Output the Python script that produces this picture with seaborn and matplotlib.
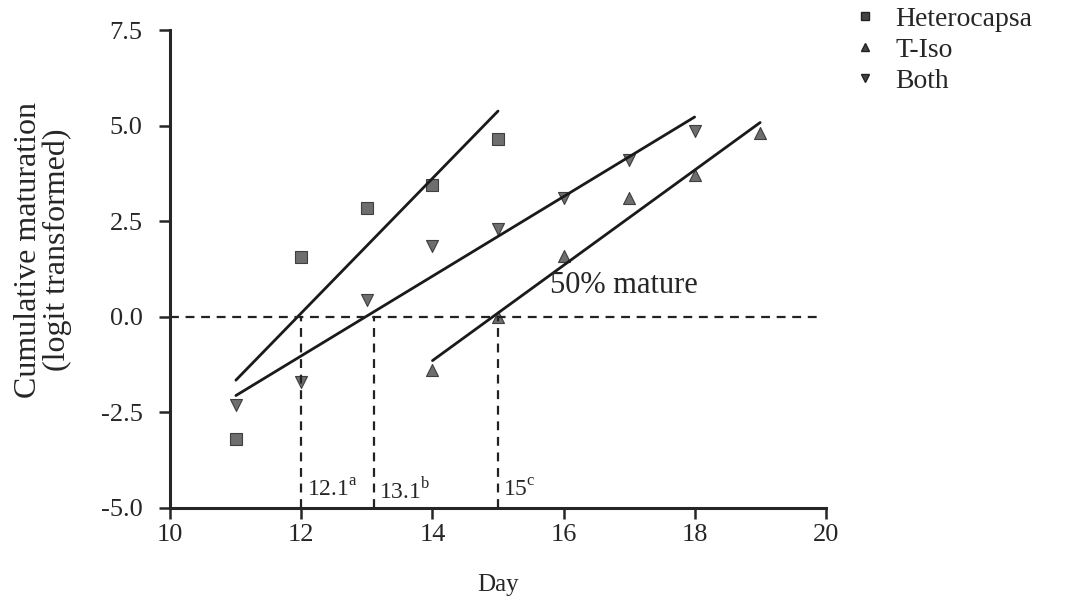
import matplotlib
matplotlib.use("Agg")
import matplotlib.pyplot as plt
import seaborn as sns
import pandas as pd
from matplotlib.lines import Line2D

# DATOS

hetero_day = [11, 12, 13, 14, 15]
hetero_logit = [-3.2, 1.55, 2.85, 3.45, 4.65]

tiso_day = [14, 15, 16, 17, 18, 19]
tiso_logit = [-1.4, 0.0, 1.6, 3.1, 3.7, 4.8]

both_day = [11, 12, 13, 14, 15, 16, 17, 18]
both_logit = [-2.3, -1.7, 0.45, 1.85, 2.3, 3.1, 4.1, 4.85]

series_names = ["Heterocapsa", "T-Iso", "Both"]
series_markers = ["s", "^", "v"]

mature_days = [12.0, 13.1, 15.0]
mature_labels = ["12.1$^{\\mathrm{a}}$", "13.1$^{\\mathrm{b}}$", "15$^{\\mathrm{c}}$"]

df = pd.concat([
    pd.DataFrame({"day": hetero_day, "logit": hetero_logit, "grupo": "Heterocapsa"}),
    pd.DataFrame({"day": tiso_day, "logit": tiso_logit, "grupo": "T-Iso"}),
    pd.DataFrame({"day": both_day, "logit": both_logit, "grupo": "Both"}),
])

# ESTILO

sns.set_style("ticks")
plt.rcParams["font.family"] = ["Liberation Serif", "DejaVu Serif"]
plt.rcParams["mathtext.fontset"] = "custom"
plt.rcParams["mathtext.rm"] = "Liberation Serif"

fig = plt.figure(figsize=(10.85, 6.01), dpi=100)
ax = fig.add_axes([0.157, 0.155, 0.604, 0.795])

# REGRESIONES POR GRUPO

for name, mk in zip(series_names, series_markers):
    sub = df[df["grupo"] == name]
    sns.regplot(
        data=sub,
        x="day",
        y="logit",
        ax=ax,
        ci=None,
        marker=mk,
        scatter_kws={"s": 75, "color": "#4a4a4a", "edgecolor": "#222222", "linewidths": 0.8},
        line_kws={"color": "#1a1a1a", "linewidth": 2},
    )

# LÍNEAS DE 50% MADURO

ax.axhline(0, xmin=0, xmax=0.99, linestyle="--", color="#222222", linewidth=1.6, dashes=(4, 3))
for d, lab in zip(mature_days, mature_labels):
    ax.plot([d, d], [-5, 0], linestyle="--", color="#222222", linewidth=1.6, dashes=(4, 3))
    ax.text(d + 0.08, -4.55, lab, fontsize=17, ha="left", va="center")

ax.text(15.8, 0.45, "50% mature", fontsize=22, ha="left", va="bottom")

# EJES

ax.set_xlim(10, 20)
ax.set_ylim(-5, 7.5)
ax.set_xticks([10, 12, 14, 16, 18, 20])
ax.set_yticks([-5.0, -2.5, 0.0, 2.5, 5.0, 7.5])
ax.set_yticklabels(["-5.0", "-2.5", "0.0", "2.5", "5.0", "7.5"])
ax.tick_params(labelsize=19, length=8, width=1.8, direction="out")
ax.tick_params(axis="y", pad=12)
for sp in ["left", "bottom"]:
    ax.spines[sp].set_linewidth(2.2)
sns.despine(ax=ax)

ax.set_xlabel("Day", fontsize=18, labelpad=20)
ax.set_ylabel("Cumulative maturation\n(logit transformed)", fontsize=23, linespacing=1.0)
ax.yaxis.set_label_coords(-0.15, 0.54)

# LEYENDA

handles = [
    Line2D([], [], linestyle="none", marker=mk, markersize=6,
           markerfacecolor="#444444", markeredgecolor="#222222")
    for mk in series_markers
]
fig.legend(
    handles, series_names,
    loc="upper left",
    bbox_to_anchor=(0.774, 1.008),
    borderaxespad=0,
    frameon=False,
    fontsize=20,
    handlelength=1,
    handletextpad=0.6,
    labelspacing=0.2,
)

plt.savefig("out.png", dpi=100)
